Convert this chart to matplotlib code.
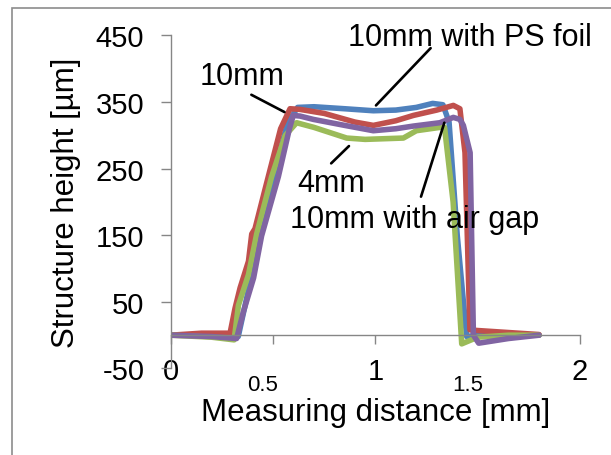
import matplotlib
matplotlib.use("Agg")
import matplotlib.pyplot as plt
import matplotlib.transforms as mtransforms
from matplotlib.patches import Rectangle

plt.rcParams['font.family'] = ['Liberation Sans', 'DejaVu Sans']
plt.rcParams['axes.unicode_minus'] = False

# profiles (x in mm, y in um)
ps_x = [0, 0.20, 0.33, 0.36, 0.42, 0.50, 0.57, 0.62, 0.70, 0.85, 0.99, 1.10, 1.20, 1.28, 1.33, 1.36, 1.40, 1.446, 1.50, 1.65, 1.80]
ps_y = [0, 0, -2, 40, 125, 235, 318, 342, 343, 340, 337, 338, 342, 348, 346, 320, 150, -2, 0, 0, 0]

mm10_x = [0, 0.15, 0.29, 0.314, 0.339, 0.38, 0.396, 0.412, 0.46, 0.537, 0.583, 0.632, 0.75, 0.90, 0.99, 1.10, 1.186, 1.30, 1.381, 1.413, 1.438, 1.462, 1.50, 1.65, 1.80]
mm10_y = [0, 3, 3, 40, 71, 111, 152, 160, 218, 310, 340, 339, 333, 320, 315, 322, 330, 338, 345, 340, 274, 8, 7, 4, 1]

mm4_x = [0, 0.20, 0.31, 0.331, 0.38, 0.42, 0.493, 0.56, 0.615, 0.70, 0.86, 0.95, 1.137, 1.20, 1.315, 1.338, 1.38, 1.422, 1.50, 1.65, 1.80]
mm4_y = [0, -3, -7, 45, 91, 152, 238, 300, 319, 312, 296, 294, 296, 307, 312, 312, 200, -13, -3, 0, 0]

gap_x = [0, 0.20, 0.322, 0.355, 0.405, 0.444, 0.526, 0.58, 0.599, 0.632, 0.697, 0.85, 0.99, 1.10, 1.186, 1.315, 1.381, 1.413, 1.43, 1.463, 1.479, 1.505, 1.65, 1.80]
gap_y = [0, -2, -5, 35, 86, 149, 238, 310, 330, 329, 324, 315, 307, 310, 314, 319, 327, 324, 315, 274, 0, -12, -5, 0]

series = [
    (ps_x, ps_y, '#4F81BD'),
    (mm10_x, mm10_y, '#C0504D'),
    (mm4_x, mm4_y, '#9BBB59'),
    (gap_x, gap_y, '#8064A2'),
]

labels = ["10mm with PS foil", "10mm", "4mm", "10mm with air gap"]
label_pos = [(1.46, 448), (0.347, 389), (0.783, 228), (1.19, 174)]
leader_from = [(1.27, 431), (0.394, 361), (0.784, 258), (1.223, 208)]
leader_to = [(1.003, 345), (0.556, 335), (0.871, 284), (1.337, 319)]

xticks = [0, 0.5, 1, 1.5, 2]
xticklabels = ["0", "0.5", "1", "1.5", "2"]
yticks = [-50, 50, 150, 250, 350, 450]

fig = plt.figure(figsize=(6.11, 4.56), dpi=100)
ax = fig.add_axes([0.2794, 0.1897, 0.6699, 0.7303])

for x, y, c in series:
    ax.plot(x, y, '-', color=c, lw=4.0, solid_joinstyle='round', solid_capstyle='round')

for txt, pos, a, b in zip(labels, label_pos, leader_from, leader_to):
    ax.annotate('', xy=b, xytext=a,
                arrowprops=dict(arrowstyle='-', lw=1.9, color='black', shrinkA=0, shrinkB=0))
    ax.text(pos[0], pos[1], txt, fontsize=22, ha='center', va='center')

ax.set_xlim(0, 2)
ax.set_ylim(-50, 450)
ax.set_xticks(xticks)
ax.set_xticklabels(xticklabels)
ax.set_yticks(yticks)

gray = '#868686'
for s in ['top', 'right']:
    ax.spines[s].set_visible(False)
ax.spines['bottom'].set_position(('data', 0))
for s in ['left', 'bottom']:
    ax.spines[s].set_color(gray)
    ax.spines[s].set_linewidth(1.0)
ax.tick_params(axis='both', color=gray, width=1.0, direction='out')
ax.tick_params(axis='x', length=6.5, labelsize=21, pad=9)
ax.tick_params(axis='y', length=7, labelsize=21, pad=12)

# the half-step labels are smaller and sit lower
for t in ax.get_xticklabels():
    if t.get_text() in ("0.5", "1.5"):
        t.set_fontsize(16)
        t.set_transform(t.get_transform() + mtransforms.ScaledTranslation(-0.1, -0.17, fig.dpi_scale_trans))

ax.set_xlabel("Measuring distance [mm]", fontsize=22.5)
ax.xaxis.set_label_coords(0.5, -0.13)
ax.xaxis.label.set_verticalalignment('center')
ax.set_ylabel("Structure height [µm]", fontsize=22.5)
ax.yaxis.set_label_coords(-0.256, 0.5)
ax.yaxis.label.set_verticalalignment('center')

fig.patches.append(Rectangle((0.0201, -0.5), 5, 1.480, transform=fig.transFigure,
                             fill=False, edgecolor='#8c8c8c', lw=1.2))

fig.savefig("out.png", dpi=100)
